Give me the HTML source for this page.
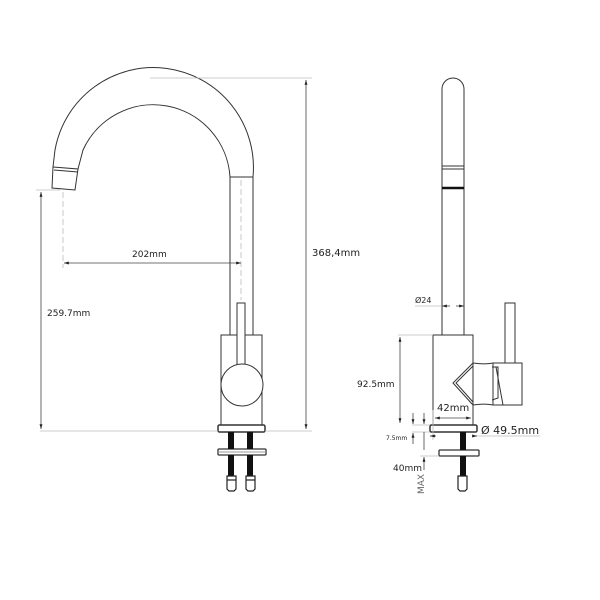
<!DOCTYPE html>
<html><head><style>body{margin:0;background:#fff}svg{display:block}text{font-family:"DejaVu Sans","Liberation Sans",sans-serif;fill:#222}</style></head>
<body>
<svg width="600" height="600" viewBox="0 0 600 600" xmlns="http://www.w3.org/2000/svg">
<defs>
<marker id="a" viewBox="0 0 10 10" refX="10" refY="5" markerWidth="6" markerHeight="6" orient="auto-start-reverse"><path d="M0,2 L10,5 L0,8z" fill="#222"/></marker>
</defs>
<g fill="none" stroke="#333" stroke-width="1">
<path d="M253,177 A100,100 0 0 0 55,150 L53,167"/>
<path d="M230,177 A77,77 0 0 0 83,150 L78,169"/>
<path d="M53,167 L78,169 L75,190 L52,188 Z"/>
<path d="M54,170 L78,172"/>
<line x1="230" y1="177" x2="253" y2="177"/>
<line x1="230" y1="177" x2="230" y2="335"/>
<line x1="253" y1="177" x2="253" y2="335"/>
<rect x="221" y="335" width="41" height="90"/>
<rect x="237" y="303" width="8" height="70" fill="#fff"/>
<circle cx="242" cy="385" r="21" fill="#fff"/>
<rect x="218" y="425" width="47" height="7" rx="1.5" stroke-width="1.5"/>
<rect x="218" y="449" width="48" height="6" rx="1" stroke-width="1.3"/>
<line x1="218" y1="452" x2="266" y2="452" stroke="#999"/>
</g>
<g fill="#111">
<rect x="228" y="432" width="6" height="17"/><rect x="228" y="455" width="6" height="21"/>
<rect x="247" y="432" width="6" height="17"/><rect x="247" y="455" width="6" height="21"/>
</g>
<g fill="#fff" stroke="#222" stroke-width="1.2">
<path d="M227,476 h9 v13 l-2,2 h-5 l-2,-2z"/>
<path d="M246,476 h9 v13 l-2,2 h-5 l-2,-2z"/>
<line x1="227" y1="480" x2="236" y2="480"/><line x1="246" y1="480" x2="255" y2="480"/>
</g>
<g stroke="#bbb" stroke-width="0.8" fill="none">
<line x1="150" y1="78" x2="312" y2="78"/>
<line x1="40" y1="431" x2="218" y2="431"/><line x1="265" y1="431" x2="312" y2="431"/>
<line x1="36" y1="190" x2="60" y2="190"/>
<line x1="63" y1="192" x2="63" y2="268" stroke-dasharray="6,3"/>
<line x1="241" y1="180" x2="241" y2="300" stroke-dasharray="6,3"/>
</g>
<g stroke="#444" stroke-width="0.8">
<line x1="306" y1="80" x2="306" y2="429" marker-start="url(#a)" marker-end="url(#a)"/>
<line x1="41" y1="192" x2="41" y2="429" marker-start="url(#a)" marker-end="url(#a)"/>
<line x1="64" y1="263" x2="241" y2="263" marker-start="url(#a)" marker-end="url(#a)"/>
</g>
<text x="132" y="257" font-size="9">202mm</text>
<text x="47" y="316" font-size="9">259.7mm</text>
<text x="312" y="256" font-size="10">368,4mm</text>
<!-- right view -->
<g fill="none" stroke="#333" stroke-width="1">
<path d="M442,335 V89 A11,11 0 0 1 464,89 V335"/>
<line x1="442" y1="166" x2="464" y2="166"/><line x1="442" y1="169" x2="464" y2="169"/>
<rect x="433" y="335" width="40" height="90"/>
<path d="M473,363 L453,383 L473,405"/>
<path d="M473,366 L456,383 L473,402"/>
<path d="M473,363 C480,364 488,364 493,363 M473,405 C480,404 488,404 493,405"/>
<path d="M492,367 L498,367 L498,398 L492,400"/>
<rect x="505" y="303" width="10" height="60"/>
<rect x="493" y="363" width="29" height="42"/>
<path d="M496,367 L503,405"/>
<rect x="430" y="425" width="47" height="7" rx="1.5" stroke-width="1.5"/>
<rect x="439" y="450" width="40" height="6" rx="1" stroke-width="1.3"/>
</g>
<line x1="442" y1="188" x2="464" y2="188" stroke="#111" stroke-width="2.5"/>
<rect x="460" y="432" width="6" height="18" fill="#111"/><rect x="460" y="456" width="6" height="20" fill="#111"/>
<path d="M458,476 h9 v13 l-2,2 h-5 l-2,-2z" fill="#fff" stroke="#222" stroke-width="1.2"/>
<g stroke="#bbb" stroke-width="0.8" fill="none">
<line x1="398" y1="335" x2="433" y2="335"/>
<line x1="412" y1="425" x2="430" y2="425"/>
<line x1="412" y1="432" x2="430" y2="432"/>
<line x1="420" y1="456" x2="439" y2="456"/>
<line x1="415" y1="306" x2="442" y2="306"/>
<line x1="477" y1="436" x2="540" y2="436"/>
<line x1="433" y1="410" x2="433" y2="440"/>
</g>
<g stroke="#444" stroke-width="0.8">
<line x1="400" y1="337" x2="400" y2="423" marker-start="url(#a)" marker-end="url(#a)"/>
<line x1="435" y1="418" x2="471" y2="418" marker-start="url(#a)" marker-end="url(#a)"/>
<line x1="450" y1="306" x2="442" y2="306" marker-end="url(#a)"/>
<line x1="456" y1="306" x2="464" y2="306" marker-end="url(#a)"/>
<line x1="413" y1="413" x2="413" y2="424" marker-end="url(#a)"/>
<line x1="413" y1="444" x2="413" y2="433" marker-end="url(#a)"/>
<line x1="424" y1="413" x2="424" y2="424" marker-end="url(#a)"/>
<line x1="424" y1="470" x2="424" y2="457" marker-end="url(#a)"/>
<line x1="424" y1="432" x2="424" y2="450"/>
<line x1="436" y1="436" x2="430" y2="436" marker-end="url(#a)"/>
<line x1="472" y1="436" x2="477" y2="436" marker-end="url(#a)"/>
</g>
<text x="415" y="303" font-size="8">Ø24</text>
<text x="357" y="387" font-size="9">92.5mm</text>
<text x="437" y="411" font-size="10">42mm</text>
<text x="386" y="440" font-size="6">7.5mm</text>
<text x="481" y="434" font-size="11">Ø 49.5mm</text>
<text x="393" y="471" font-size="9">40mm</text>
<text x="0" y="0" font-size="9" transform="translate(424,494) rotate(-90)" style="fill:#666">MAX</text>
</svg>
</body></html>
